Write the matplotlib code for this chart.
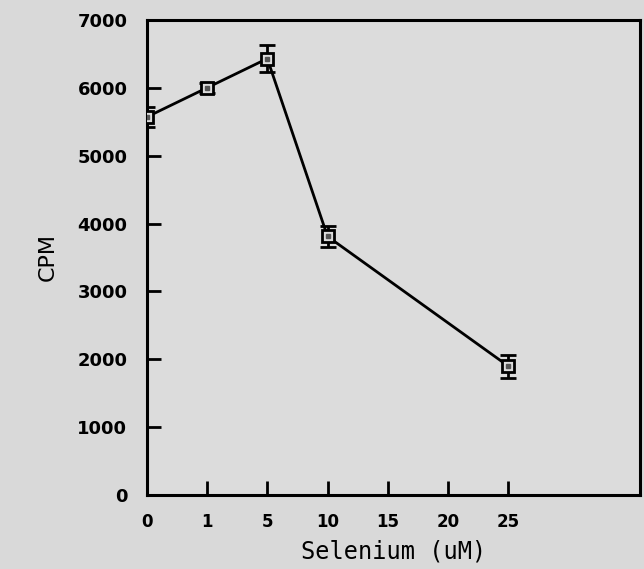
import matplotlib.pyplot as plt
import numpy as np

# data
conc_labels = ['0', '1', '5', '10', '15', '20', '25']
conc = ['0', '1', '5', '10', '25']
cpm = [5570, 6000, 6430, 3810, 1900]
cpm_err = [150, 70, 200, 150, 170]

pos = {lab: i for i, lab in enumerate(conc_labels)}
x = [pos[c] for c in conc]

fig = plt.figure(figsize=(6.44, 5.69), dpi=100)
fig.patch.set_facecolor('#d9d9d9')
ax = fig.add_axes([0.228, 0.130, 0.766, 0.835])
ax.set_facecolor('#dcdcdc')

ax.errorbar(x, cpm, yerr=cpm_err, color='black', linewidth=2,
            elinewidth=2, capsize=6, capthick=2,
            marker='s', markersize=9, markerfacecolor='#dcdcdc',
            markeredgecolor='black', markeredgewidth=2, zorder=3)
# small dot inside each square
ax.plot(x, cpm, linestyle='none', marker='s', markersize=2.5,
        color='#555555', zorder=4)

ax.set_xlim(0, 8.19)
ax.set_ylim(0, 7000)
ax.set_xticks(range(len(conc_labels)))
ax.set_xticklabels(conc_labels)
ax.set_yticks(np.arange(0, 7001, 1000))

for s in ax.spines.values():
    s.set_linewidth(2.2)

ax.tick_params(axis='y', direction='in', length=10, width=2, pad=14,
               labelsize=13)
ax.tick_params(axis='x', direction='in', length=10, width=2, pad=13,
               labelsize=12)
for t in ax.get_yticklabels() + ax.get_xticklabels():
    t.set_fontweight('bold')

ax.set_ylabel('CPM', fontsize=16, labelpad=14)
ax.set_xlabel('Selenium (uM)', fontsize=17, family='DejaVu Sans Mono',
              labelpad=6)

fig.savefig('out.png', dpi=100, facecolor=fig.get_facecolor())
